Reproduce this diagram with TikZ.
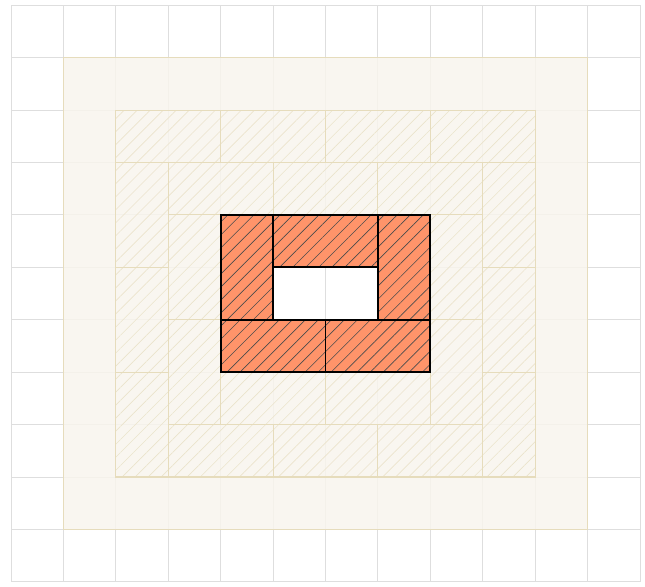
\documentclass[tikz,border=0pt]{standalone}
\usepackage{xcolor}
\usepackage{tikz}
\usetikzlibrary{patterns.meta}
\definecolor{gridgray}{RGB}{222,222,222}
\definecolor{sandfill}{RGB}{248,245,237}
\definecolor{sandline}{RGB}{230,220,188}
\definecolor{sandhatch}{RGB}{235,227,204}
\definecolor{brickred}{RGB}{255,148,106}

\begin{document}
\begin{tikzpicture}[x=1cm, y=1cm,
  gridline/.style={draw=gridgray, line width=0.5pt},
  faded/.style={draw=sandline, line width=0.55pt, pattern={Lines[angle=45,distance=5pt,line width=0.35pt]}, pattern color=sandhatch},
  brick/.style={draw=black, line width=1pt, preaction={fill=brickred}, pattern={Lines[angle=45,distance=5pt,line width=0.35pt]}, pattern color=black!70}]
  \useasboundingbox (-0.21,-0.08) rectangle (12.095,11.1);
  \draw[gridline] (0,0) grid (12,11);
  \fill[sandfill, fill opacity=0.85, even odd rule] (1,1) rectangle (11,10) (5,5) rectangle (7,6);
  \draw[sandline, line width=0.55pt] (1,1) rectangle (11,10);
  \foreach \xa/\ya/\xb/\yb in {2/8/4/9, 4/8/6/9, 6/8/8/9, 8/8/10/9,
      2/6/3/8, 2/4/3/6, 2/2/3/4, 3/2/5/3, 5/2/7/3, 7/2/9/3,
      9/6/10/8, 9/4/10/6, 9/2/10/4,
      3/7/5/8, 5/7/7/8, 7/7/9/8, 3/5/4/7, 3/3/4/5,
      4/3/6/4, 6/3/8/4, 8/5/9/7, 8/3/9/5}
    \path[faded] (\xa,\ya) rectangle (\xb,\yb);
  \foreach \xa/\ya/\xb/\yb in {4/5/5/7, 5/6/7/7, 7/5/8/7, 4/4/6/5, 6/4/8/5}
    \path[brick] (\xa,\ya) rectangle (\xb,\yb);
\end{tikzpicture}
\end{document}
